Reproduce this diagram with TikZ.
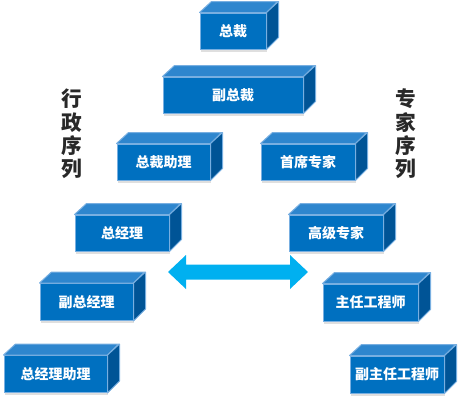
\documentclass[tikz,border=0pt]{standalone}
\usepackage{fontspec}
\setmainfont{Noto Sans CJK SC}
\newfontfamily\seqfont{Noto Sans CJK SC Black}
\usetikzlibrary{shadows,calc}

\definecolor{frontblue}{RGB}{0,112,192}
\definecolor{topblue}{RGB}{46,134,206}
\definecolor{sideblue}{RGB}{0,84,150}
\definecolor{edgeblue}{RGB}{120,175,225}
\definecolor{arrowcyan}{RGB}{0,176,240}
\definecolor{seqgray}{RGB}{40,40,40}

\tikzset{every picture/.style={line width=0.75pt}}
\tikzset{
	cubefront/.style={draw=edgeblue, fill=frontblue, text=white, inner sep=0pt,
		font=\fontsize{10.5}{12}\selectfont\bfseries,
		drop shadow={opacity=0.25, shadow xshift=1pt, shadow yshift=-2pt}},
	cubetop/.style={draw=edgeblue, fill=topblue, line join=round},
	cubeside/.style={draw=edgeblue, fill=sideblue, line join=round},
	seqtext/.style={text=seqgray, align=center, font=\seqfont\fontsize{15.5}{17.5}\selectfont}
}

% cube: name, centre x, centre y, width, height, label
\newcommand{\cuboid}[6]{%
	\node[cubefront, minimum width=#4*0.75pt, minimum height=#5*0.75pt] (#1) at (#2,#3) {#6};
	\draw[cubetop] (#1.north west) -- ++(12,-11) -- ++(#4,0) -- (#1.north east) -- cycle;
	\draw[cubeside] (#1.north east) -- ++(12,-11) -- ++(0,#5) -- (#1.south east) -- cycle;
}

\begin{document}
\begin{tikzpicture}[x=0.75pt,y=0.75pt,yscale=-1,xscale=1]
	\useasboundingbox (0,0) rectangle (460,400);
	
	%Shape: Cube [top]
	\cuboid{ceo}{233}{31}{66}{36}{总裁}
	%Shape: Cube
	\cuboid{vp}{233}{95}{140}{36}{副总裁}
	
	%Shape: Cube [admin line]
	\cuboid{ceoasst}{163.5}{162}{93}{36}{总裁助理}
	\cuboid{gm}{122}{233}{94}{36}{总经理}
	\cuboid{dgm}{86.5}{302}{93}{37}{副总经理}
	\cuboid{gmasst}{55.5}{374}{103}{37}{总经理助理}
	
	%Shape: Cube [expert line]
	\cuboid{chief}{308}{162}{94}{36}{首席专家}
	\cuboid{senior}{336}{233}{94}{36}{高级专家}
	\cuboid{lead}{370.5}{302.5}{95}{37}{主任工程师}
	\cuboid{deputy}{397}{374.5}{94}{37}{副主任工程师}
	
	%Shape: Double Arrow
	\coordinate (arrL) at (168,272);
	\coordinate (arrR) at (308,272);
	\fill[arrowcyan] (arrL) -- ++(18,-17) -- ++(0,9.5) -- ($(arrR)+(-18,-7.5)$) -- ++(0,-9.5)
		-- (arrR) -- ++(-18,17) -- ++(0,-9.5) -- ($(arrL)+(18,7.5)$) -- ++(0,9.5) -- cycle;
	
	% Text Node
	\node[seqtext] (admin) at (72,134) {行\\政\\序\\列};
	% Text Node
	\node[seqtext] (expert) at (406,134) {专\\家\\序\\列};
	
\end{tikzpicture}
\end{document}
